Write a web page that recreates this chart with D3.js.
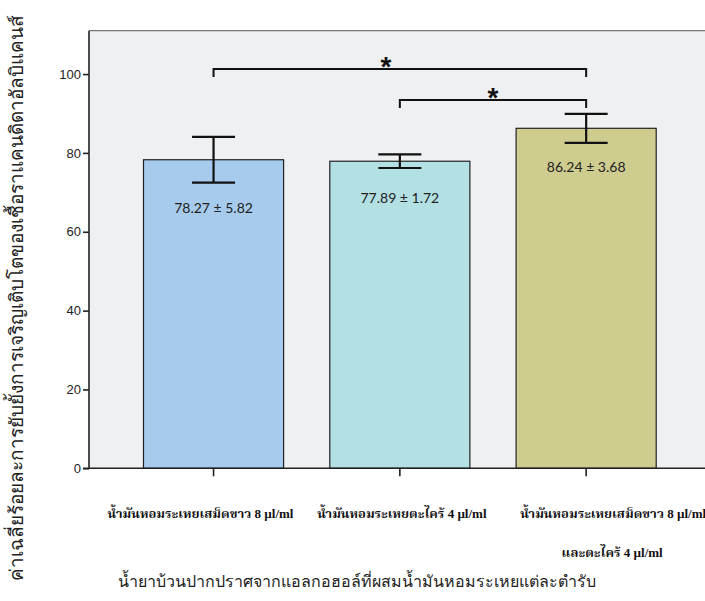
<!DOCTYPE html>
<html>
<head>
<meta charset="utf-8">
<script src="https://cdn.jsdelivr.net/npm/d3@7"></script>
<style>
  html, body { margin: 0; padding: 0; background: #ffffff; }
  svg { display: block; }
</style>
</head>
<body>
<div id="chart"></div>
<script>
// ---- data ----
const categoryLines = [
  ["น้ำมันหอมระเหยเสม็ดขาว 8 µl/ml"],
  ["น้ำมันหอมระเหยตะไคร้ 4 µl/ml"],
  ["น้ำมันหอมระเหยเสม็ดขาว 8 µl/ml", "และตะไคร้ 4 µl/ml"]
];
const means = [78.27, 77.89, 86.24];
const sds = [5.82, 1.72, 3.68];
const yTicks = [0, 20, 40, 60, 80, 100];
const comparisons = [[0, 2], [1, 2]];
const sigLabels = ["*", "*"];
const yTitle = "ค่าเฉลี่ยร้อยละการยับยั้งการเจริญเติบโตของเชื้อราแคนดิดาอัลบิแคนส์";
const xTitle = "น้ำยาบ้วนปากปราศจากแอลกอฮอล์ที่ผสมน้ำมันหอมระเหยแต่ละตำรับ";
const barColors = ["#a7cbec", "#b3e0e3", "#cfcc8f"];

// ---- layout ----
const W = 705, H = 601;
const pLeft = 89, pTop = 30.7, pBottom = 468.3, pRight = 710.7;
const labelDx = [-13, 2, 27];
const valueDy = [30, 35, 29];

const svg = d3.select("#chart").append("svg").attr("width", W).attr("height", H);

const idx = d3.range(means.length);
const x = d3.scaleBand().domain(idx).range([pLeft, pRight])
  .paddingInner(0.248).paddingOuter(0.2925);
const y = d3.scaleLinear().domain([0, 111]).range([pBottom, pTop]);

// plot background
svg.append("rect").attr("x", pLeft).attr("y", pTop)
  .attr("width", pRight - pLeft + 20).attr("height", pBottom - pTop)
  .attr("fill", "#eef0f1");
svg.append("line").attr("x1", pLeft).attr("x2", W + 5).attr("y1", pTop).attr("y2", pTop)
  .attr("stroke", "#555").attr("stroke-width", 1);

// bars
svg.selectAll("rect.bar").data(idx).enter().append("rect").attr("class", "bar")
  .attr("x", i => x(i)).attr("y", i => y(means[i]))
  .attr("width", x.bandwidth()).attr("height", i => y(0) - y(means[i]))
  .attr("fill", i => barColors[i]).attr("stroke", "#222").attr("stroke-width", 1.2);

// error bars
const cap = 21.5;
const eg = svg.append("g").attr("stroke", "#111").attr("stroke-width", 2.2);
idx.forEach(i => {
  const cx = x(i) + x.bandwidth() / 2;
  eg.append("line").attr("x1", cx).attr("x2", cx)
    .attr("y1", y(means[i] + sds[i])).attr("y2", y(means[i] - sds[i]));
  eg.append("line").attr("x1", cx - cap).attr("x2", cx + cap)
    .attr("y1", y(means[i] + sds[i])).attr("y2", y(means[i] + sds[i]));
  eg.append("line").attr("x1", cx - cap).attr("x2", cx + cap)
    .attr("y1", y(means[i] - sds[i])).attr("y2", y(means[i] - sds[i]));
});

// value labels
svg.selectAll("text.val").data(idx).enter().append("text").attr("class", "val")
  .attr("x", i => x(i) + x.bandwidth() / 2)
  .attr("y", i => y(means[i] - sds[i]) + valueDy[i])
  .attr("text-anchor", "middle")
  .attr("font-family", "Lato, 'Open Sans', sans-serif")
  .attr("font-size", 14).attr("fill", "#222")
  .text(i => means[i].toFixed(2) + " ± " + sds[i].toFixed(2));

// axes
const yAxis = d3.axisLeft(y).tickValues(yTicks).tickSize(6).tickPadding(2).tickFormat(d3.format("d"));
const gy = svg.append("g").attr("transform", `translate(${pLeft},0)`).call(yAxis);
gy.selectAll(".domain").attr("d", `M0,${pTop}V${pBottom}`)
  .attr("stroke", "#222").attr("stroke-width", 1.6);
gy.selectAll(".tick line").attr("stroke", "#222").attr("stroke-width", 1.6);
gy.selectAll(".tick text").attr("font-family", "Liberation Sans, Arial, sans-serif")
  .attr("font-size", 13).attr("fill", "#222");

const xAxis = d3.axisBottom(x).tickSize(8).tickFormat("");
const gx = svg.append("g").attr("transform", `translate(0,${pBottom})`).call(xAxis);
gx.select(".domain").attr("d", `M${pLeft - 6},0H${W + 5}`).attr("stroke", "#222").attr("stroke-width", 1.6);
gx.selectAll(".tick line").attr("stroke", "#222").attr("stroke-width", 1.6);

// category labels
idx.forEach(i => {
  const cx = x(i) + x.bandwidth() / 2 + labelDx[i];
  const t = svg.append("text")
    .attr("text-anchor", "middle")
    .attr("font-family", "'Liberation Serif', 'Noto Serif Thai', serif")
    .attr("font-weight", "bold")
    .attr("font-size", 13).attr("fill", "#111");
  categoryLines[i].forEach((ln, k) => {
    t.append("tspan").attr("x", cx + (k > 0 ? -1 : 0))
      .attr("y", 518 + k * 39).text(ln);
  });
});

// significance brackets
const bracketY = [69, 100];
const bg = svg.append("g").attr("stroke", "#111").attr("stroke-width", 2).attr("fill", "none");
comparisons.forEach((c, k) => {
  const x1 = x(c[0]) + x.bandwidth() / 2, x2 = x(c[1]) + x.bandwidth() / 2;
  const by = bracketY[k];
  bg.append("path").attr("d", `M${x1},${by + 8}V${by}H${x2}V${by + 8}`);
  svg.append("text").attr("x", (x1 + x2) / 2 - (k === 0 ? 14 : 0)).attr("y", by + 7)
    .attr("text-anchor", "middle")
    .attr("font-family", "'Liberation Sans', Arial, sans-serif")
    .attr("font-weight", "bold").attr("font-size", 28).attr("fill", "#111")
    .text(sigLabels[k]);
});

// axis titles
svg.append("text").attr("transform", "translate(23,298) rotate(-90)")
  .attr("text-anchor", "middle")
  .attr("font-family", "'Noto Sans', sans-serif")
  .attr("font-size", 19).attr("fill", "#222").text(yTitle);
svg.append("text").attr("x", 357).attr("y", 587)
  .attr("text-anchor", "middle")
  .attr("font-family", "'Noto Sans', sans-serif")
  .attr("font-size", 16).attr("fill", "#222").text(xTitle);
</script>
</body>
</html>
